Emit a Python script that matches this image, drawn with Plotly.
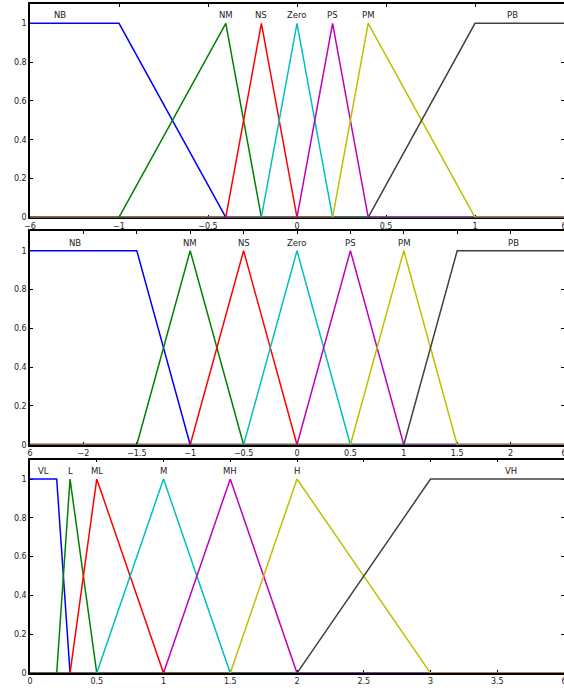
import plotly.graph_objects as go

# ---------------- data ----------------
# Each membership function: (a, b, c, d) -> 0 at a, 1 from b to c, 0 at d
top_names = ["NB", "NM", "NS", "Zero", "PS", "PM", "PB"]
top_params = [(-1.5, -1.5, -1.0, -0.4), (-1.0, -0.4, -0.4, -0.2), (-0.4, -0.2, -0.2, 0.0),
              (-0.2, 0.0, 0.0, 0.2), (0.0, 0.2, 0.2, 0.4), (0.2, 0.4, 0.4, 1.0),
              (0.4, 1.0, 1.5, 1.5)]
top_label_x = [-1.33, -0.4, -0.2, 0.0, 0.2, 0.4, 1.21]
top_range = [-1.5, 1.5]
top_tickvals = [-1.5, -1.0, -0.5, 0.0, 0.5, 1.0, 1.5]
top_ticktext = ["\u22126", "\u22121", "\u22120.5", "0", "0.5", "1", "6"]

mid_names = ["NB", "NM", "NS", "Zero", "PS", "PM", "PB"]
mid_params = [(-2.5, -2.5, -1.5, -1.0), (-1.5, -1.0, -1.0, -0.5), (-1.0, -0.5, -0.5, 0.0),
              (-0.5, 0.0, 0.0, 0.5), (0.0, 0.5, 0.5, 1.0), (0.5, 1.0, 1.0, 1.5),
              (1.0, 1.5, 2.5, 2.5)]
mid_label_x = [-2.08, -1.0, -0.5, 0.0, 0.5, 1.0, 2.03]
mid_range = [-2.5, 2.5]
mid_tickvals = [-2.5, -2.0, -1.5, -1.0, -0.5, 0.0, 0.5, 1.0, 1.5, 2.0, 2.5]
mid_ticktext = ["6", "\u22122", "\u22121.5", "\u22121", "\u22120.5", "0", "0.5", "1", "1.5", "2", "6"]

bot_names = ["VL", "L", "ML", "M", "MH", "H", "VH"]
bot_params = [(0.0, 0.0, 0.2, 0.3), (0.2, 0.3, 0.3, 0.5), (0.3, 0.5, 0.5, 1.0),
              (0.5, 1.0, 1.0, 1.5), (1.0, 1.5, 1.5, 2.0), (1.5, 2.0, 2.0, 3.0),
              (2.0, 3.0, 4.0, 4.0)]
bot_label_x = [0.1, 0.3, 0.5, 1.0, 1.5, 2.0, 3.6]
bot_range = [0.0, 4.0]
bot_tickvals = [0.0, 0.5, 1.0, 1.5, 2.0, 2.5, 3.0, 3.5, 4.0]
bot_ticktext = ["0", "0.5", "1", "1.5", "2", "2.5", "3", "3.5", "6"]

y_tickvals = [0, 0.2, 0.4, 0.6, 0.8, 1.0]
y_ticktext = ["0", "0.2", "0.4", "0.6", "0.8", "1"]

colors = ["rgb(0,0,255)", "rgb(0,128,0)", "rgb(255,0,0)", "rgb(0,191,191)",
          "rgb(191,0,191)", "rgb(191,191,0)", "rgb(64,64,64)"]

# ---------------- figure ----------------
fig = go.Figure()
FONT = "DejaVu Sans, Arial, Helvetica, sans-serif"

panels = [
    (top_names, top_params, top_label_x, top_range, top_tickvals, top_ticktext, [0.6826, 0.9942]),
    (mid_names, mid_params, mid_label_x, mid_range, mid_tickvals, mid_ticktext, [0.3507, 0.6623]),
    (bot_names, bot_params, bot_label_x, bot_range, bot_tickvals, bot_ticktext, [0.0174, 0.3290]),
]

annotations = []
for i, (names, params, label_x, xr, tv, tt, ydom) in enumerate(panels):
    sfx = "" if i == 0 else str(i + 1)
    xa, ya = "x" + sfx, "y" + sfx
    xmin, xmax = xr
    # zero (baseline) portions, semi-transparent so they blend
    for (a, b, c, d), col in zip(params, colors):
        bx, by = [], []
        if a > xmin:
            bx += [xmin, a, None]
            by += [0, 0, None]
        if d < xmax:
            bx += [d, xmax]
            by += [0, 0]
        fig.add_trace(go.Scatter(x=bx, y=by, mode="lines", xaxis=xa, yaxis=ya,
                                 line=dict(color=col, width=2.2), opacity=0.5,
                                 showlegend=False, hoverinfo="skip", cliponaxis=False))
    # non-zero portions
    for (a, b, c, d), col in zip(params, colors):
        sx, sy = [], []
        if a < b:
            sx.append(a); sy.append(0)
        sx.append(b); sy.append(1)
        if c > b:
            sx.append(c); sy.append(1)
        if d > c:
            sx.append(d); sy.append(0)
        fig.add_trace(go.Scatter(x=sx, y=sy, mode="lines", xaxis=xa, yaxis=ya,
                                 line=dict(color=col, width=1.5),
                                 showlegend=False, hoverinfo="skip", cliponaxis=False))
    for name, lx in zip(names, label_x):
        annotations.append(dict(x=lx, y=1.0, xref=xa, yref=ya, text=name, showarrow=False,
                                yanchor="bottom", xanchor="center", yshift=1,
                                font=dict(size=8.5, color="#222", family=FONT)))
    axcommon = dict(showgrid=False, zeroline=False, ticks="inside", ticklen=3,
                    tickcolor="black", showline=True, linecolor="black", linewidth=1.5,
                    mirror="ticks", layer="below traces", ticklabeloverflow="allow",
                    tickfont=dict(size=8, color="#222", family=FONT))
    fig.layout["xaxis" + sfx] = dict(domain=[0, 1], anchor=ya, range=xr,
                                     tickmode="array", tickvals=tv, ticktext=tt, **axcommon)
    fig.layout["yaxis" + sfx] = dict(domain=ydom, anchor=xa, range=[0, 1.1],
                                     tickmode="array", tickvals=y_tickvals,
                                     ticktext=y_ticktext, **axcommon)

fig.update_layout(width=567, height=690, margin=dict(l=30, r=0, t=0, b=0),
                  paper_bgcolor="white", plot_bgcolor="white",
                  annotations=annotations, font=dict(family=FONT))

fig.write_html("out.html", config={"displayModeBar": False},
               post_script="document.body.style.margin='0';document.body.style.overflow='hidden';")
